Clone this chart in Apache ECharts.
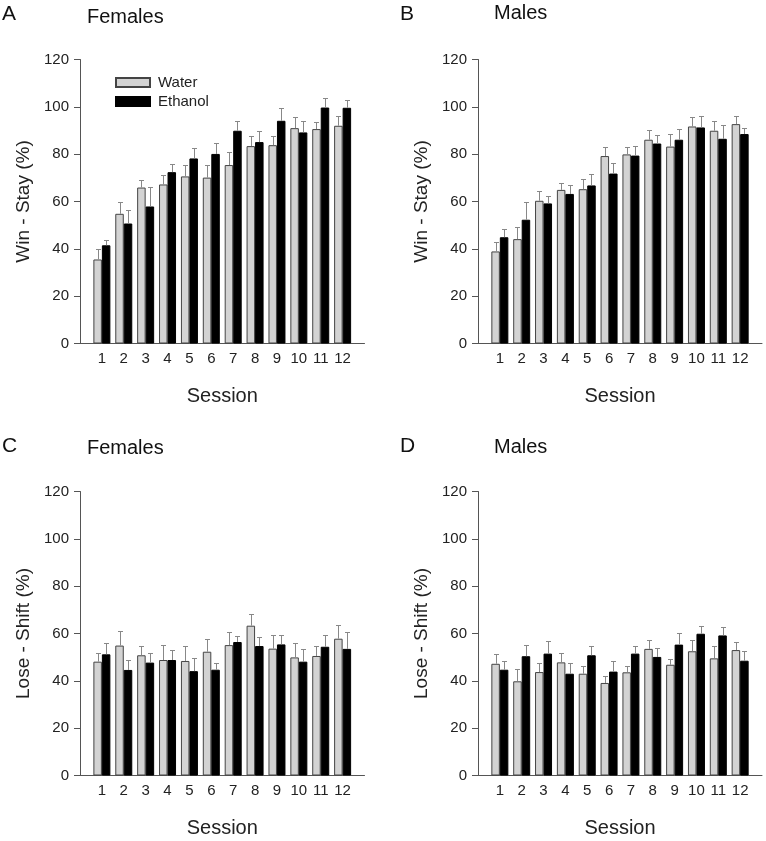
<!DOCTYPE html>
<html>
<head>
<meta charset="utf-8">
<script src="https://cdn.jsdelivr.net/npm/echarts@6/dist/echarts.min.js"></script>
<style>
html,body{margin:0;padding:0;background:#fff;}
#chart{width:766px;height:841px;}
</style>
</head>
<body>
<div id="chart"></div>
<script>
// ---- Data ----
const sessions = [1,2,3,4,5,6,7,8,9,10,11,12];
const xTickLabels = ['1','2','3','4','5','6','7','8','9','10','11','12'];
const yTicks = [0,20,40,60,80,100,120];

// Win-Stay, Females
const femWinStayWater      = [35.5,54.8,65.9,67.2,70.6,70.1,75.4,83.4,83.8,91.0,90.6,92.0];
const femWinStayWaterSE    = [4.4,5.1,3.1,4.2,4.9,5.5,5.4,4.2,3.8,4.9,3.2,4.2];
const femWinStayEthanol    = [41.5,50.7,57.9,72.4,78.2,80.1,89.9,85.1,94.1,89.2,99.7,99.6];
const femWinStayEthanolSE  = [2.3,5.6,8.3,3.5,4.5,4.8,4.3,4.9,5.6,4.9,4.2,3.2];
// Win-Stay, Males
const maleWinStayWater     = [38.9,44.1,60.3,64.9,65.2,79.2,79.9,86.1,83.2,91.7,89.9,92.7];
const maleWinStayWaterSE   = [3.9,5.2,4.1,3.0,4.4,3.8,3.2,4.3,5.5,4.2,4.2,3.4];
const maleWinStayEthanol   = [44.9,52.3,59.2,63.2,66.8,71.8,79.4,84.5,86.1,91.3,86.5,88.5];
const maleWinStayEthanolSE = [3.3,7.6,3.3,3.8,5.0,4.5,4.0,3.4,4.6,4.8,6.0,2.5];
// Lose-Shift, Females
const femLoseShiftWater      = [48.1,54.9,50.8,48.8,48.4,52.3,55.1,63.3,53.6,49.9,50.5,57.8];
const femLoseShiftWaterSE    = [3.8,6.2,3.8,6.2,6.2,5.4,5.4,5.0,5.6,6.0,4.1,5.8];
const femLoseShiftEthanol    = [51.2,44.6,47.7,48.8,44.1,44.7,56.4,54.7,55.4,48.1,54.4,53.5];
const femLoseShiftEthanolSE  = [4.7,4.3,4.2,4.1,5.5,3.0,2.4,3.7,3.8,5.2,5.1,7.0];
// Lose-Shift, Males
const maleLoseShiftWater     = [47.2,39.8,43.7,47.8,43.0,39.1,43.6,53.5,46.8,52.5,49.5,53.0];
const maleLoseShiftWaterSE   = [4.0,5.3,3.7,4.1,3.4,3.1,2.8,3.9,2.6,4.9,5.2,3.3];
const maleLoseShiftEthanol   = [44.7,50.4,51.5,43.0,50.8,43.9,51.5,50.1,55.3,59.9,59.2,48.5];
const maleLoseShiftEthanolSE = [3.8,4.9,5.3,4.5,3.9,4.6,3.1,3.9,4.8,3.4,3.4,4.0];

const panelLetters = ['A','B','C','D'];
const panelTitles = ['Females','Males','Females','Males'];
const yAxisNames = ['Win - Stay (%)','Win - Stay (%)','Lose - Shift (%)','Lose - Shift (%)'];
const xAxisName = 'Session';
const groupNames = ['Water','Ethanol'];

// ---- Styles / layout ----
const FONT = '"Liberation Sans", Arial, sans-serif';
const BAR_W = 8.5;
const AXIS_COLOR = '#555';
const TEXT_COLOR = '#222';
const WATER_COLOR = '#d3d3d3';
const ETH_COLOR = '#000';
const ERR_COLOR = '#888';

const grids = [
  {left: 80,  top: 59.5,  width: 284.5, height: 284},
  {left: 478, top: 59.5,  width: 284,   height: 284},
  {left: 80,  top: 491.5, width: 284.5, height: 284},
  {left: 478, top: 491.5, width: 284,   height: 284}
];

const panels = [
  [femWinStayWater, femWinStayWaterSE, femWinStayEthanol, femWinStayEthanolSE],
  [maleWinStayWater, maleWinStayWaterSE, maleWinStayEthanol, maleWinStayEthanolSE],
  [femLoseShiftWater, femLoseShiftWaterSE, femLoseShiftEthanol, femLoseShiftEthanolSE],
  [maleLoseShiftWater, maleLoseShiftWaterSE, maleLoseShiftEthanol, maleLoseShiftEthanolSE]
];

function errRender(sign) {
  return function (params, api) {
    const x = api.value(0), m = api.value(1), e = api.value(2);
    const base = api.coord([x, m]);
    const top = api.coord([x, m + e]);
    const cx = Math.round(base[0] + sign * BAR_W / 2) + 0.5;
    const ty = Math.round(top[1]) + 0.5;
    const st = {stroke: ERR_COLOR, lineWidth: 1};
    return {
      type: 'group',
      children: [
        {type: 'line', shape: {x1: cx, y1: base[1], x2: cx, y2: ty}, style: st},
        {type: 'line', shape: {x1: cx - 2.5, y1: ty, x2: cx + 2.5, y2: ty}, style: st}
      ]
    };
  };
}

const xAxes = [], yAxes = [], series = [];
panels.forEach((p, i) => {
  xAxes.push({
    type: 'value', gridIndex: i, min: 0, max: 13, interval: 1,
    axisLine: {lineStyle: {color: AXIS_COLOR, width: 1}},
    axisTick: {show: false},
    splitLine: {show: false},
    axisLabel: {
      color: TEXT_COLOR, fontSize: 15, fontFamily: FONT, margin: 8,
      formatter: v => (v >= 1 && v <= 12) ? xTickLabels[v - 1] : ''
    },
    name: xAxisName, nameLocation: 'middle', nameGap: 43,
    nameTextStyle: {fontSize: 20, color: TEXT_COLOR, fontFamily: FONT}
  });
  yAxes.push({
    type: 'value', gridIndex: i, min: yTicks[0], max: yTicks[yTicks.length - 1], interval: 20,
    axisLine: {show: true, lineStyle: {color: AXIS_COLOR, width: 1}},
    axisTick: {show: true, length: 6, lineStyle: {color: AXIS_COLOR}},
    splitLine: {show: false},
    axisLabel: {color: TEXT_COLOR, fontSize: 15, fontFamily: FONT, margin: 11},
    name: yAxisNames[i], nameLocation: 'middle', nameGap: 47,
    nameTextStyle: {fontSize: 19, color: TEXT_COLOR, fontFamily: FONT}
  });
  const [w, wse, e, ese] = p;
  series.push({
    type: 'bar', name: groupNames[0], xAxisIndex: i, yAxisIndex: i,
    barWidth: BAR_W, barGap: '0%',
    itemStyle: {color: WATER_COLOR, borderColor: '#444', borderWidth: 1},
    data: sessions.map((s, k) => [s, w[k]])
  });
  series.push({
    type: 'bar', name: groupNames[1], xAxisIndex: i, yAxisIndex: i,
    barWidth: BAR_W, barGap: '0%',
    itemStyle: {color: ETH_COLOR, borderColor: '#000', borderWidth: 1},
    data: sessions.map((s, k) => [s, e[k]])
  });
  series.push({
    type: 'custom', xAxisIndex: i, yAxisIndex: i, z: 3,
    renderItem: errRender(-1), silent: true,
    data: sessions.map((s, k) => [s, w[k], wse[k]])
  });
  series.push({
    type: 'custom', xAxisIndex: i, yAxisIndex: i, z: 3,
    renderItem: errRender(1), silent: true,
    data: sessions.map((s, k) => [s, e[k], ese[k]])
  });
});

const letterPos = [[2, 15], [400, 15], [2, 447], [400, 447]];
const titlePos = [[87, 18], [494, 14], [87, 449], [494, 448]];
const graphics = [];
panelLetters.forEach((L, i) => {
  graphics.push({type: 'text', left: letterPos[i][0], top: letterPos[i][1] - 11,
    style: {text: L, fontSize: 21, fontFamily: FONT, fill: '#111'}});
  graphics.push({type: 'text', left: titlePos[i][0], top: titlePos[i][1] - 11,
    style: {text: panelTitles[i], fontSize: 20, fontFamily: FONT, fill: '#111'}});
});

const chart = echarts.init(document.getElementById('chart'), null, {renderer: 'canvas'});
chart.setOption({
  animation: false,
  backgroundColor: '#fff',
  textStyle: {fontFamily: FONT},
  grid: grids,
  xAxis: xAxes,
  yAxis: yAxes,
  legend: {
    data: groupNames, orient: 'vertical', left: 110, top: 70, icon: 'rect',
    itemWidth: 34, itemHeight: 9, itemGap: 4,
    textStyle: {fontSize: 15, color: TEXT_COLOR, fontFamily: FONT, padding: [0, 0, 0, 3]},
    selectedMode: false
  },
  graphic: graphics,
  series: series
});
</script>
</body>
</html>
